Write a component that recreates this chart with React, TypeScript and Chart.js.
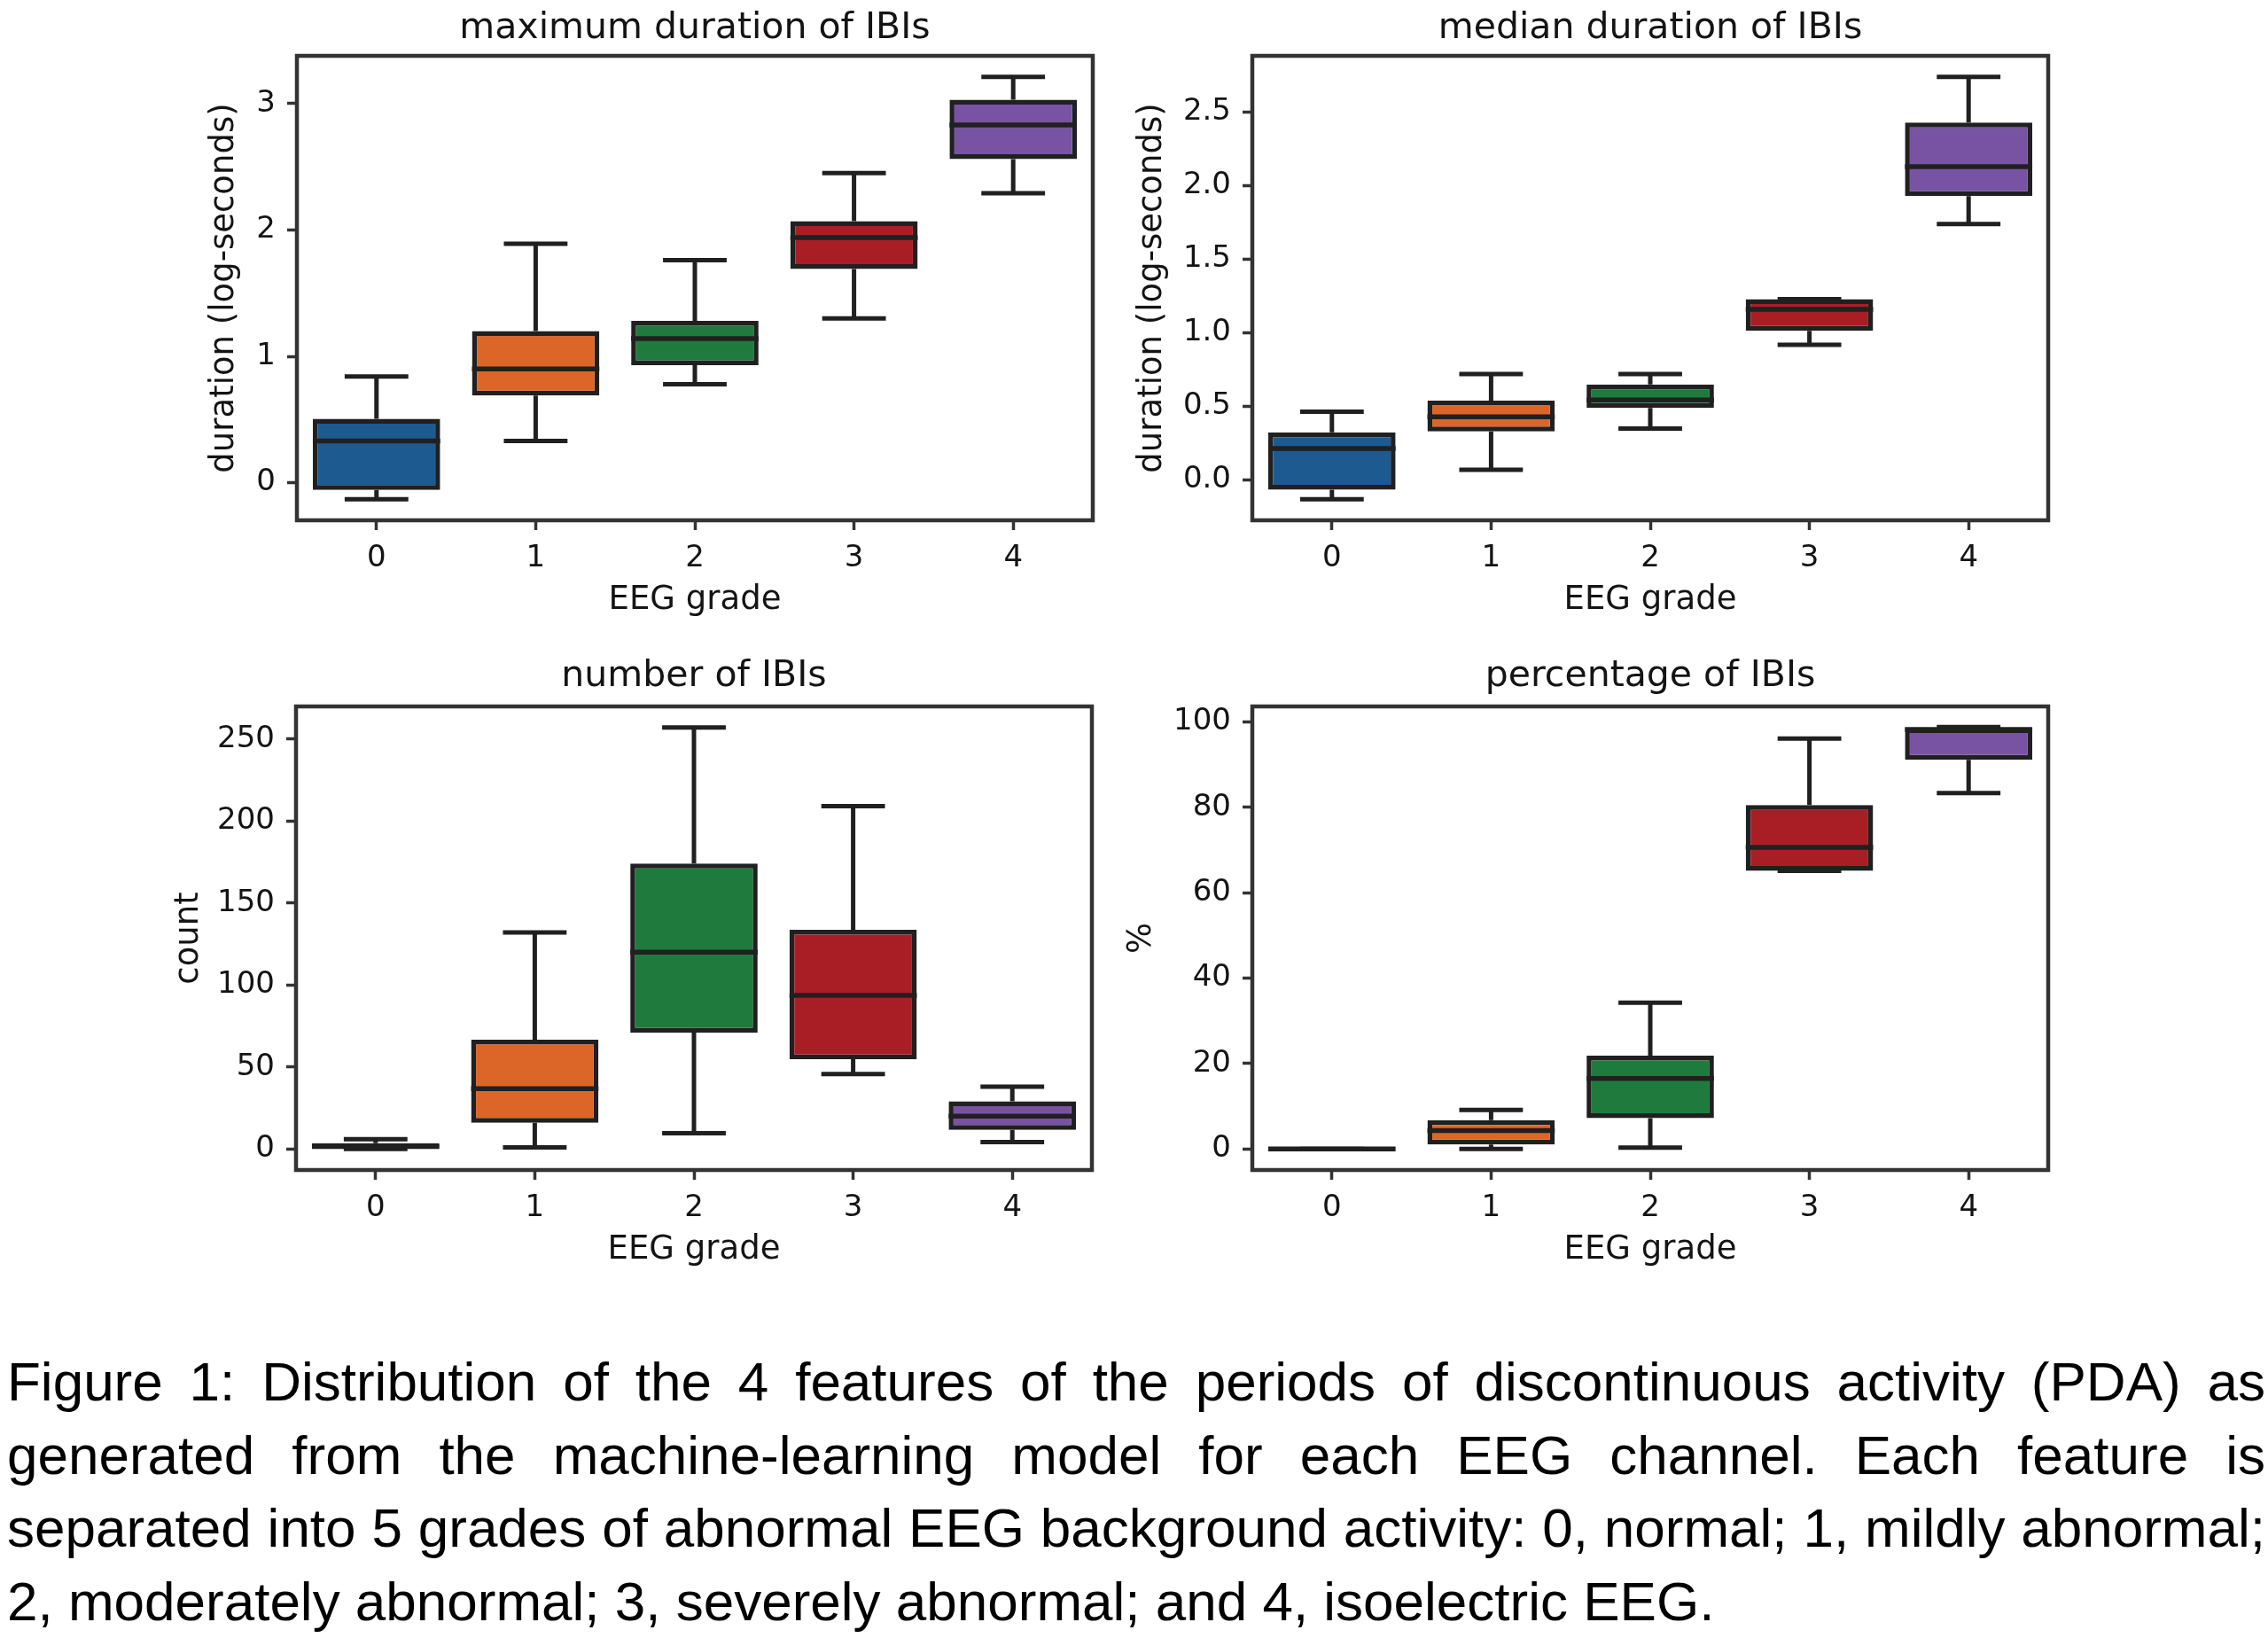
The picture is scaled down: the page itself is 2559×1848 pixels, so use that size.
import React, { useEffect, useRef } from 'react';
import { Chart, registerables } from 'chart.js';

Chart.register(...registerables);

// ---------- data ----------
const GRADES = ['0', '1', '2', '3', '4'];
const BOX_COLORS = ['#1d5a8f', '#dc6628', '#1f7b3d', '#a91e25', '#7853a3'];

// maximum duration of IBIs (log-seconds)
const MAX_WHISLO = [-0.13, 0.33, 0.78, 1.3, 2.29];
const MAX_Q1 = [-0.056, 0.69, 0.93, 1.69, 2.56];
const MAX_MED = [0.33, 0.9, 1.14, 1.94, 2.83];
const MAX_Q3 = [0.505, 1.2, 1.28, 2.07, 3.03];
const MAX_WHISHI = [0.84, 1.89, 1.76, 2.45, 3.21];
const MAX_TICKS = [0, 1, 2, 3];

// median duration of IBIs (log-seconds)
const MED_WHISLO = [-0.13, 0.07, 0.35, 0.92, 1.74];
const MED_Q1 = [-0.065, 0.33, 0.49, 1.015, 1.93];
const MED_MED = [0.215, 0.43, 0.545, 1.16, 2.13];
const MED_Q3 = [0.325, 0.54, 0.65, 1.23, 2.43];
const MED_WHISHI = [0.465, 0.72, 0.72, 1.23, 2.74];
const MED_TICKS = [0, 0.5, 1, 1.5, 2, 2.5];

// number of IBIs (count)
const NUM_WHISLO = [0, 1, 9.6, 45.6, 4.2];
const NUM_Q1 = [0.5, 16, 71, 54.7, 11.6];
const NUM_MED = [1.5, 36.7, 120, 93.7, 20];
const NUM_Q3 = [3.5, 66.6, 174, 133.6, 29];
const NUM_WHISHI = [6, 132, 257, 209, 38];
const NUM_TICKS = [0, 50, 100, 150, 200, 250];

// percentage of IBIs (%)
const PCT_WHISLO = [0, 0, 0.3, 65.1, 83.3];
const PCT_Q1 = [0, 1.0, 7.2, 65.1, 91.1];
const PCT_MED = [0, 4.3, 16.5, 70.6, 98.2];
const PCT_Q3 = [0, 6.7, 21.8, 80.5, 98.5];
const PCT_WHISHI = [0, 9.1, 34.2, 96.1, 98.8];
const PCT_TICKS = [0, 20, 40, 60, 80, 100];

const CAPTION_LINES = [
  'Figure 1: Distribution of the 4 features of the periods of discontinuous activity (PDA) as',
  'generated from the machine-learning model for each EEG channel. Each feature is',
  'separated into 5 grades of abnormal EEG background activity: 0, normal; 1, mildly abnormal;',
  '2, moderately abnormal; 3, severely abnormal; and 4, isoelectric EEG.',
];

// ---------- styling ----------
const FONT = 'DejaVu Sans';
const TEXT = '#141414';
const LINE = '#202020';
const FRAME = '#333333';

type Panel = {
  title: string;
  yLabel: string;
  whislo: number[];
  q1: number[];
  med: number[];
  q3: number[];
  whishi: number[];
  ticks: number[];
  decimals: number;
  yMin: number;
  yMax: number;
  left: number;
  top: number;
  w: number;
  h: number;
  yAxisW: number;
  xAxisH: number;
  padRight: number;
  titlePad: { top: number; bottom: number };
  xTitlePadBottom: number;
  yTitlePadTop: number;
};

const PANELS: Panel[] = [
  {
    title: 'maximum duration of IBIs',
    yLabel: 'duration (log-seconds)',
    whislo: MAX_WHISLO, q1: MAX_Q1, med: MAX_MED, q3: MAX_Q3, whishi: MAX_WHISHI,
    ticks: MAX_TICKS, decimals: 0, yMin: -0.297, yMax: 3.377,
    left: 130, top: 0, w: 1130, h: 700, yAxisW: 205, xAxisH: 113, padRight: 27,
    titlePad: { top: 7.4, bottom: 6.4 }, xTitlePadBottom: 0.8, yTitlePadTop: 100.8,
  },
  {
    title: 'median duration of IBIs',
    yLabel: 'duration (log-seconds)',
    whislo: MED_WHISLO, q1: MED_Q1, med: MED_MED, q3: MED_Q3, whishi: MED_WHISHI,
    ticks: MED_TICKS, decimals: 1, yMin: -0.2735, yMax: 2.8835,
    left: 1210, top: 0, w: 1130, h: 700, yAxisW: 203, xAxisH: 113, padRight: 29,
    titlePad: { top: 7.4, bottom: 6.4 }, xTitlePadBottom: 0.8, yTitlePadTop: 67.8,
  },
  {
    title: 'number of IBIs',
    yLabel: 'count',
    whislo: NUM_WHISLO, q1: NUM_Q1, med: NUM_MED, q3: NUM_Q3, whishi: NUM_WHISHI,
    ticks: NUM_TICKS, decimals: 0, yMin: -12.85, yMax: 269.85,
    left: 130, top: 720, w: 1130, h: 720, yAxisW: 204, xAxisH: 120, padRight: 28,
    titlePad: { top: 18.4, bottom: 9.4 }, xTitlePadBottom: 7.8, yTitlePadTop: 60.8,
  },
  {
    title: 'percentage of IBIs',
    yLabel: '%',
    whislo: PCT_WHISLO, q1: PCT_Q1, med: PCT_MED, q3: PCT_Q3, whishi: PCT_WHISHI,
    ticks: PCT_TICKS, decimals: 0, yMin: -4.95, yMax: 103.6,
    left: 1210, top: 720, w: 1130, h: 720, yAxisW: 203, xAxisH: 120, padRight: 29,
    titlePad: { top: 18.4, bottom: 9.4 }, xTitlePadBottom: 7.8, yTitlePadTop: 55.8,
  },
];

function BoxPanel({ p }: { p: Panel }) {
  const ref = useRef<HTMLCanvasElement | null>(null);

  useEffect(() => {
    const canvas = ref.current;
    if (!canvas) return;

    const boxExtras = {
      id: 'boxExtras',
      beforeDatasetsDraw(chart: any) {
        const { ctx, chartArea } = chart;
        const xs = chart.scales.x;
        const ys = chart.scales.y;
        const meta = chart.getDatasetMeta(0);
        ctx.save();
        // frame
        ctx.strokeStyle = FRAME;
        ctx.lineWidth = 4.5;
        ctx.strokeRect(chartArea.left, chartArea.top, chartArea.right - chartArea.left, chartArea.bottom - chartArea.top);
        // whiskers + caps
        ctx.strokeStyle = LINE;
        ctx.lineWidth = 5;
        ctx.lineCap = 'butt';
        p.whislo.forEach((lo, i) => {
          const bar = meta.data[i] as any;
          const cx = xs.getPixelForValue(i);
          const hw = bar.width / 2;
          const pLo = ys.getPixelForValue(lo);
          const pHi = ys.getPixelForValue(p.whishi[i]);
          const pQ1 = ys.getPixelForValue(p.q1[i]);
          const pQ3 = ys.getPixelForValue(p.q3[i]);
          ctx.beginPath();
          ctx.moveTo(cx, pQ1);
          ctx.lineTo(cx, pLo);
          ctx.moveTo(cx, pQ3);
          ctx.lineTo(cx, pHi);
          ctx.moveTo(cx - hw / 2, pLo);
          ctx.lineTo(cx + hw / 2, pLo);
          ctx.moveTo(cx - hw / 2, pHi);
          ctx.lineTo(cx + hw / 2, pHi);
          ctx.stroke();
        });
        ctx.restore();
      },
      afterDatasetsDraw(chart: any) {
        const { ctx } = chart;
        const xs = chart.scales.x;
        const ys = chart.scales.y;
        const meta = chart.getDatasetMeta(0);
        ctx.save();
        ctx.strokeStyle = LINE;
        ctx.lineWidth = 5.5;
        p.med.forEach((m, i) => {
          const bar = meta.data[i] as any;
          const cx = xs.getPixelForValue(i);
          const hw = bar.width / 2;
          const py = ys.getPixelForValue(m);
          ctx.beginPath();
          ctx.moveTo(cx - hw, py);
          ctx.lineTo(cx + hw, py);
          ctx.stroke();
        });
        ctx.restore();
      },
    };

    const chart = new Chart(canvas, {
      type: 'bar',
      data: {
        labels: GRADES,
        datasets: [
          {
            data: p.q1.map((v, i) => [v, p.q3[i]]) as any,
            backgroundColor: BOX_COLORS,
            borderColor: LINE,
            borderWidth: 5.5,
            borderSkipped: false,
            barPercentage: 0.8,
            categoryPercentage: 1.0,
          },
        ],
      },
      options: {
        responsive: false,
        animation: false,
        devicePixelRatio: 1,
        layout: { padding: { left: 0, right: p.padRight, top: 0, bottom: 0 } },
        plugins: {
          legend: { display: false },
          tooltip: { enabled: false },
          title: {
            display: true,
            text: p.title,
            fullSize: false,
            color: TEXT,
            font: { family: FONT, size: 41, weight: 'normal' },
            padding: p.titlePad,
          },
        },
        scales: {
          x: {
            type: 'category',
            offset: true,
            grid: {
              display: true,
              drawOnChartArea: false,
              drawTicks: true,
              tickLength: 11,
              tickWidth: 3.5,
              tickColor: FRAME,
              offset: false,
            },
            border: { display: false },
            ticks: { color: TEXT, font: { family: FONT, size: 34 }, padding: 11.6 },
            title: {
              display: true,
              text: 'EEG grade',
              color: TEXT,
              font: { family: FONT, size: 37 },
              padding: { top: 0, bottom: p.xTitlePadBottom },
            },
            afterFit: (s: any) => {
              s.height = p.xAxisH;
            },
          },
          y: {
            type: 'linear',
            min: p.yMin,
            max: p.yMax,
            afterBuildTicks: (s: any) => {
              s.ticks = p.ticks.map((v) => ({ value: v }));
            },
            grid: {
              display: true,
              drawOnChartArea: false,
              drawTicks: true,
              tickLength: 11,
              tickWidth: 3.5,
              tickColor: FRAME,
            },
            border: { display: false },
            ticks: {
              color: TEXT,
              font: { family: FONT, size: 34 },
              padding: 13,
              callback: (v: any) => Number(v).toFixed(p.decimals),
            },
            title: {
              display: true,
              text: p.yLabel,
              color: TEXT,
              font: { family: FONT, size: 37 },
              padding: { top: p.yTitlePadTop, bottom: 0 },
            },
            afterFit: (s: any) => {
              s.width = p.yAxisW;
            },
          },
        },
      } as any,
      plugins: [boxExtras],
    });

    return () => chart.destroy();
  }, [p]);

  return (
    <canvas
      ref={ref}
      width={p.w}
      height={p.h}
      style={{ position: 'absolute', left: p.left, top: p.top, width: p.w, height: p.h }}
    />
  );
}

export default function App() {
  return (
    <div
      style={{
        position: 'absolute',
        left: 0,
        top: 0,
        width: 2559,
        height: 1848,
        overflow: 'hidden',
        background: '#ffffff',
      }}
    >
      {PANELS.map((p, i) => (
        <BoxPanel key={i} p={p} />
      ))}
      {CAPTION_LINES.map((line, i) => {
        const last = i === CAPTION_LINES.length - 1;
        return (
          <div
            key={i}
            style={{
              position: 'absolute',
              left: 8,
              top: 1518 + i * 82.5,
              width: 2548,
              fontFamily: '"Liberation Sans", Arial, sans-serif',
              fontSize: 62,
              lineHeight: '82.5px',
              color: '#000',
              whiteSpace: 'nowrap',
              textAlign: last ? 'left' : 'justify',
              textAlignLast: last ? 'left' : 'justify',
            } as React.CSSProperties}
          >
            {line}
          </div>
        );
      })}
    </div>
  );
}
